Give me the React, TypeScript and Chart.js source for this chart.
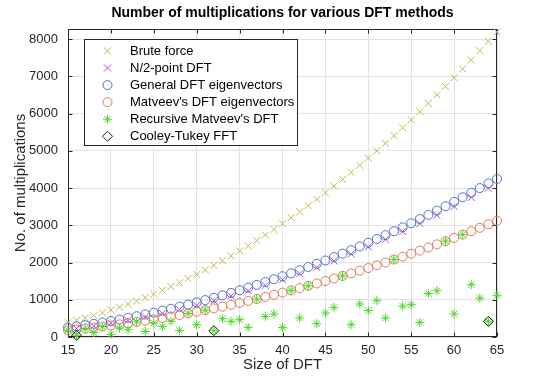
import React, { useEffect, useRef } from 'react';
import { Chart, registerables } from 'chart.js';

Chart.register(...registerables);

// ---------- data ----------
const sizes = [15, 16, 17, 18, 19, 20, 21, 22, 23, 24, 25, 26, 27, 28, 29, 30, 31, 32, 33, 34, 35, 36, 37, 38, 39, 40,
  41, 42, 43, 44, 45, 46, 47, 48, 49, 50, 51, 52, 53, 54, 55, 56, 57, 58, 59, 60, 61, 62, 63, 64, 65];

const bruteForce = [392, 450, 512, 578, 648, 722, 800, 882, 968, 1058, 1152, 1250, 1352, 1458, 1568, 1682, 1800, 1922,
  2048, 2178, 2312, 2450, 2592, 2738, 2888, 3042, 3200, 3362, 3528, 3698, 3872, 4050, 4232, 4418, 4608, 4802, 5000,
  5202, 5408, 5618, 5832, 6050, 6272, 6498, 6728, 6962, 7200, 7442, 7688, 7938, 8192];

const halfSizes = [16, 18, 20, 22, 24, 26, 28, 30, 32, 34, 36, 38, 40, 42, 44, 46, 48, 50, 52, 54, 56, 58, 60, 62, 64];
const halfPoint = [230, 295, 368, 449, 538, 634, 739, 852, 973, 1102, 1238, 1383, 1536, 1697, 1866, 2042, 2227, 2420,
  2621, 2830, 3046, 3271, 3504, 3745, 3994];

const generalEig = [255, 286, 319, 354, 391, 430, 471, 514, 559, 606, 655, 706, 759, 814, 871, 930, 991, 1054, 1119,
  1186, 1255, 1326, 1399, 1474, 1551, 1630, 1711, 1794, 1879, 1966, 2055, 2146, 2239, 2334, 2431, 2530, 2631, 2734,
  2839, 2946, 3055, 3166, 3279, 3394, 3511, 3630, 3751, 3874, 3999, 4126, 4245];

const matveevEig = [180, 203, 227, 253, 280, 309, 339, 371, 404, 438, 474, 512, 551, 591, 633, 677, 721, 768, 815, 865,
  915, 968, 1021, 1076, 1133, 1191, 1251, 1312, 1374, 1438, 1503, 1570, 1639, 1708, 1780, 1852, 1927, 2002, 2080, 2158,
  2238, 2320, 2403, 2488, 2574, 2661, 2750, 2840, 2932, 3026, 3120];

const recursiveMatveev = [180, 45, 227, 120, 280, 70, 240, 196, 404, 150, 375, 285, 420, 170, 633, 330, 721, 170, 490,
  420, 465, 258, 1021, 553, 617, 258, 1251, 510, 1374, 357, 644, 795, 1639, 330, 886, 714, 975, 510, 2080, 830, 867,
  392, 1170, 1243, 2574, 620, 2750, 1404, 1045, 420, 1120];

const fftSizes = [16, 32, 64];
const cooleyTukey = [45, 170, 420];

const xTickValues = [15, 20, 25, 30, 35, 40, 45, 50, 55, 60, 65];
const yTickValues = [0, 1000, 2000, 3000, 4000, 5000, 6000, 7000, 8000];
const xMin = 15;
const xMax = 65;
const yMin = 0;
const yMax = 8270;

const TITLE = 'Number of multiplications for various DFT methods';
const X_TITLE = 'Size of DFT';
const Y_TITLE = 'No. of multiplications';

// ---------- styles ----------
const FONT = '"Liberation Sans", Arial, Helvetica, sans-serif';
const INK = '#262626';
const GRID = '#e3e3e3';

const pts = (xs: number[], ys: number[]) => xs.map((x, i) => ({ x, y: ys[i] }));

function drawMarker(ctx: CanvasRenderingContext2D, style: string, x: number, y: number, r: number, color: string) {
  ctx.save();
  ctx.strokeStyle = color;
  ctx.lineWidth = 1;
  ctx.beginPath();
  const d = r * Math.SQRT1_2;
  if (style === 'crossRot') {
    ctx.moveTo(x - d, y - d); ctx.lineTo(x + d, y + d);
    ctx.moveTo(x - d, y + d); ctx.lineTo(x + d, y - d);
  } else if (style === 'circle') {
    ctx.arc(x, y, r, 0, Math.PI * 2);
  } else if (style === 'star') {
    ctx.moveTo(x - r, y); ctx.lineTo(x + r, y);
    ctx.moveTo(x, y - r); ctx.lineTo(x, y + r);
    ctx.moveTo(x - d, y - d); ctx.lineTo(x + d, y + d);
    ctx.moveTo(x - d, y + d); ctx.lineTo(x + d, y - d);
  } else if (style === 'rectRot') {
    ctx.moveTo(x - r, y); ctx.lineTo(x, y - r); ctx.lineTo(x + r, y); ctx.lineTo(x, y + r); ctx.closePath();
  }
  ctx.stroke();
  ctx.restore();
}

const titlePlugin = {
  id: 'centeredTitle',
  afterDraw(chart: any) {
    const { ctx, chartArea: a } = chart;
    ctx.save();
    ctx.font = `bold 14px ${FONT}`;
    ctx.fillStyle = '#000';
    ctx.textAlign = 'center';
    ctx.textBaseline = 'middle';
    ctx.fillText(TITLE, (a.left + a.right) / 2, 13);
    ctx.restore();
  },
};

const framePlugin = {
  id: 'matlabFrame',
  beforeDatasetsDraw(chart: any) {
    const { ctx, chartArea: a, scales } = chart;
    ctx.save();
    ctx.strokeStyle = INK;
    ctx.lineWidth = 1;
    const L = Math.round(a.left) + 0.5, R = Math.round(a.right) - 0.5;
    const T = Math.round(a.top) + 0.5, B = Math.round(a.bottom) - 0.5;
    ctx.strokeRect(L, T, R - L, B - T);
    const tl = 4;
    ctx.beginPath();
    scales.x.ticks.forEach((t: any) => {
      const px = Math.round(scales.x.getPixelForValue(t.value)) + 0.5;
      ctx.moveTo(px, B); ctx.lineTo(px, B - tl);
      ctx.moveTo(px, T); ctx.lineTo(px, T + tl);
    });
    scales.y.ticks.forEach((t: any) => {
      const py = Math.round(scales.y.getPixelForValue(t.value)) + 0.5;
      ctx.moveTo(L, py); ctx.lineTo(L + tl, py);
      ctx.moveTo(R, py); ctx.lineTo(R - tl, py);
    });
    ctx.stroke();
    ctx.restore();
  },
};

const legendPlugin = {
  id: 'insideLegend',
  afterDatasetsDraw(chart: any) {
    const { ctx } = chart;
    const ds = chart.data.datasets;
    const box = { x: 84, y: 39, w: 213, h: 106 };
    ctx.save();
    ctx.fillStyle = '#fff';
    ctx.fillRect(box.x, box.y, box.w, box.h);
    ctx.strokeStyle = INK;
    ctx.lineWidth = 1;
    ctx.strokeRect(box.x + 0.5, box.y + 0.5, box.w, box.h);
    ctx.font = `13px ${FONT}`;
    ctx.fillStyle = '#000';
    ctx.textAlign = 'left';
    ctx.textBaseline = 'middle';
    ds.forEach((d: any, i: number) => {
      const y = 51 + i * 17.05;
      drawMarker(ctx, d.pointStyle, 107.5, y, d.pointRadius, d.pointBorderColor);
      ctx.fillStyle = '#000';
      ctx.fillText(d.label, 130, y + 0.5);
    });
    ctx.restore();
  },
};

export default function App() {
  const ref = useRef<HTMLCanvasElement | null>(null);

  useEffect(() => {
    if (!ref.current) return;
    const mk = (label: string, data: any[], color: string, style: string, r: number, order: number) => ({
      label,
      data,
      showLine: false,
      pointStyle: style,
      pointRadius: r,
      pointHoverRadius: r,
      pointBorderColor: color,
      pointBackgroundColor: 'rgba(0,0,0,0)',
      pointBorderWidth: 1,
      borderColor: color,
      backgroundColor: 'rgba(0,0,0,0)',
      clip: false,
      order,
    });
    const chart = new Chart(ref.current, {
      type: 'scatter',
      data: {
        datasets: [
          mk('Brute force', pts(sizes, bruteForce), '#c4b74e', 'crossRot', 5, 5),
          mk('N/2-point DFT', pts(halfSizes, halfPoint), '#b84ec8', 'crossRot', 5, 4),
          mk('General DFT eigenvectors', pts(sizes, generalEig), '#4f70d6', 'circle', 4.5, 3),
          mk("Matveev's DFT eigenvectors", pts(sizes, matveevEig), '#e07a52', 'circle', 4.5, 2),
          mk("Recursive Matveev's DFT", pts(sizes, recursiveMatveev), '#4cd62a', 'star', 4.5, 1),
          mk('Cooley-Tukey FFT', pts(fftSizes, cooleyTukey), '#1a1a1a', 'rectRot', 5, 0),
        ] as any,
      },
      options: {
        animation: false,
        responsive: false,
        devicePixelRatio: 1,
        layout: { padding: { top: 29, right: 53, left: 0, bottom: 0 } },
        plugins: {
          legend: { display: false },
          title: { display: false },
          tooltip: { enabled: false },
        },
        scales: {
          x: {
            type: 'linear',
            min: xMin,
            max: xMax,
            afterFit: (s: any) => { s.height = 45; },
            afterBuildTicks: (s: any) => { s.ticks = xTickValues.map((v) => ({ value: v })); },
            ticks: { color: INK, font: { family: FONT, size: 13 }, padding: 6, callback: (v: any) => String(v) },
            grid: { color: GRID, drawTicks: false },
            border: { display: false },
            title: { display: true, text: X_TITLE, color: INK, font: { family: FONT, size: 15 }, padding: { top: 0, bottom: 8 } },
          },
          y: {
            type: 'linear',
            min: yMin,
            max: yMax,
            afterFit: (s: any) => { s.width = 68; },
            afterBuildTicks: (s: any) => { s.ticks = yTickValues.map((v) => ({ value: v })); },
            ticks: { color: INK, font: { family: FONT, size: 13 }, padding: 10, callback: (v: any) => String(v) },
            grid: { color: GRID, drawTicks: false },
            border: { display: false },
            title: { display: true, text: Y_TITLE, color: INK, font: { family: FONT, size: 15 }, padding: { top: 12, bottom: 0 } },
          },
        },
      } as any,
      plugins: [framePlugin, legendPlugin, titlePlugin],
    });
    return () => chart.destroy();
  }, []);

  return (
    <div style={{ position: 'absolute', left: 0, top: 0, width: 550, height: 382, background: '#fff' }}>
      <canvas ref={ref} width={550} height={382} style={{ display: 'block', width: 550, height: 382 }} />
    </div>
  );
}
